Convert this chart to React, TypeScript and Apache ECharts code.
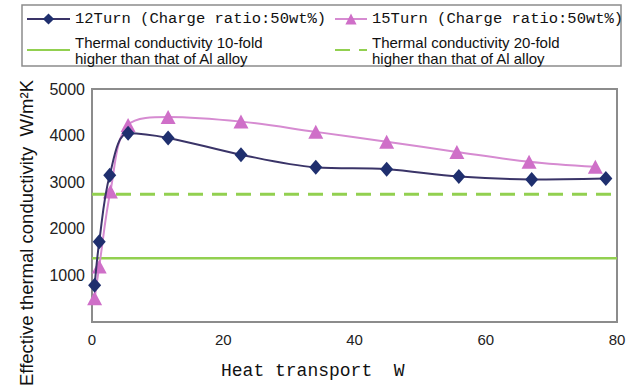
import React, { useEffect, useRef } from "react";
import * as echarts from "echarts";

// Heat transport (W) and effective thermal conductivity (W/m²K)
const heat12 = [0.4, 1.1, 2.7, 5.5, 11.6, 22.7, 34.1, 44.9, 55.9, 67.0, 78.3];
const cond12 = [790, 1720, 3150, 4050, 3950, 3590, 3320, 3280, 3120, 3060, 3080];
const heat15 = [0.4, 1.1, 2.8, 5.5, 11.6, 22.7, 34.1, 44.9, 55.6, 66.6, 76.7];
const cond15 = [510, 1190, 2800, 4230, 4400, 4300, 4080, 3870, 3650, 3440, 3330];
const refHeat = [0, 80];
const ref10 = [1370, 1370];
const ref20 = [2740, 2740];

const seriesNames = [
  "12Turn (Charge ratio:50wt%)",
  "15Turn (Charge ratio:50wt%)",
  "Thermal conductivity 10-fold\nhigher than that of Al alloy",
  "Thermal conductivity 20-fold\nhigher than that of Al alloy",
];
const xTitle = "Heat transport  W";
const yTitle = "Effective thermal conductivity  W/m²K";

const MONO = "'Liberation Mono', 'DejaVu Sans Mono', monospace";
const SANS = "'Liberation Sans', Arial, sans-serif";

const pairs = (xs: number[], ys: number[]) => xs.map((x, i) => [x, ys[i]]);

export default function App() {
  const ref = useRef<HTMLDivElement>(null);
  useEffect(() => {
    if (!ref.current) return;
    const chart = echarts.init(ref.current, undefined, { renderer: "svg" });
    const legendBase = {
      orient: "horizontal",
      padding: 0,
      itemGap: 0,
      itemHeight: 14,
      selectedMode: false,
    };
    chart.setOption({
      animation: false,
      backgroundColor: "#ffffff",
      grid: {
        left: 92,
        top: 89,
        right: 18,
        bottom: 67,
        show: true,
        borderColor: "#8c8c8c",
        borderWidth: 2,
        backgroundColor: "transparent",
      },
      legend: [
        {
          ...legendBase,
          data: [seriesNames[0]],
          left: 26,
          top: 10,
          itemWidth: 43,
          textStyle: { fontFamily: MONO, fontSize: 15.5, lineHeight: 18, color: "#111" },
        },
        {
          ...legendBase,
          data: [seriesNames[1]],
          left: 334,
          top: 10,
          itemWidth: 32,
          textStyle: { fontFamily: MONO, fontSize: 15.5, lineHeight: 18, color: "#111" },
        },
        {
          ...legendBase,
          data: [seriesNames[2]],
          left: 26,
          top: 34,
          itemWidth: 43,
          itemStyle: { opacity: 0 },
          textStyle: { fontFamily: SANS, fontSize: 15, lineHeight: 16, color: "#111" },
        },
        {
          ...legendBase,
          data: [seriesNames[3]],
          left: 334,
          top: 34,
          itemWidth: 32,
          itemStyle: { opacity: 0 },
          textStyle: { fontFamily: SANS, fontSize: 15, lineHeight: 16, color: "#111" },
        },
      ],
      xAxis: {
        type: "value",
        min: 0,
        max: 80,
        interval: 20,
        axisLine: { show: false },
        axisTick: { show: false },
        splitLine: { show: false },
        axisLabel: { fontFamily: SANS, fontSize: 15, color: "#222", margin: 10 },
      },
      yAxis: {
        type: "value",
        min: 0,
        max: 5000,
        interval: 1000,
        axisLine: { show: false },
        axisTick: { show: false },
        splitLine: { show: false },
        axisLabel: {
          fontFamily: SANS,
          fontSize: 16,
          color: "#222",
          margin: 7,
          formatter: (v: number) => (v === 0 ? "" : String(v)),
        },
      },
      graphic: [
        {
          type: "rect",
          shape: { x: 22, y: 5, width: 599, height: 61 },
          style: { fill: "none", stroke: "#8c8c8c", lineWidth: 1.5 },
          silent: true,
        },
        {
          type: "text",
          x: 221,
          y: 371,
          style: {
            text: xTitle,
            fontFamily: MONO,
            fontSize: 18,
            fill: "#111",
            align: "left",
            verticalAlign: "middle",
          },
        },
        {
          type: "text",
          x: 26,
          y: 233,
          rotation: Math.PI / 2,
          style: {
            text: yTitle,
            fontFamily: SANS,
            fontSize: 18.5,
            fill: "#111",
            align: "center",
            verticalAlign: "middle",
          },
        },
      ],
      series: [
        {
          name: seriesNames[0],
          type: "line",
          data: pairs(heat12, cond12),
          smooth: 0.35,
          symbol: "diamond",
          symbolSize: [13, 15],
          itemStyle: { color: "#1f2f6e" },
          lineStyle: { color: "#3a3468", width: 2 },
          z: 3,
        },
        {
          name: seriesNames[1],
          type: "line",
          data: pairs(heat15, cond15),
          smooth: 0.35,
          symbol: "triangle",
          symbolSize: [15, 14],
          itemStyle: { color: "#cf6fc8" },
          lineStyle: { color: "#d68bd1", width: 2 },
          z: 2,
        },
        {
          name: seriesNames[2],
          type: "line",
          data: pairs(refHeat, ref10),
          symbol: "none",
          itemStyle: { color: "#92d050" },
          lineStyle: { color: "#92d050", width: 2.5 },
          z: 1,
        },
        {
          name: seriesNames[3],
          type: "line",
          data: pairs(refHeat, ref20),
          symbol: "none",
          itemStyle: { color: "#92d050" },
          lineStyle: { color: "#92d050", width: 3, type: [15, 9] },
          z: 1,
        },
      ],
    });
    return () => chart.dispose();
  }, []);
  return (
    <div
      ref={ref}
      style={{ position: "absolute", left: 0, top: 0, width: 635, height: 389 }}
    />
  );
}
